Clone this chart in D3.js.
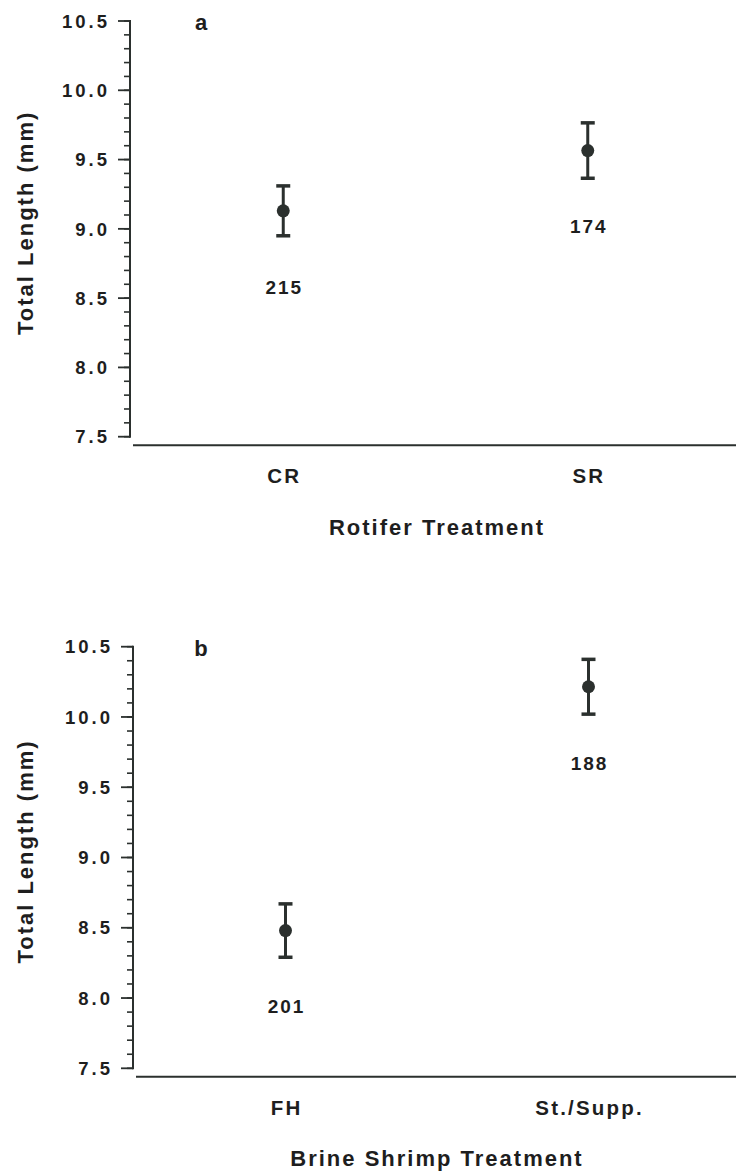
<!DOCTYPE html>
<html>
<head>
<meta charset="utf-8">
<script src="https://cdn.jsdelivr.net/npm/d3@7"></script>
<style>
  html, body { margin: 0; padding: 0; background: #fff; }
  svg { display: block; }
  text { font-family: "Liberation Sans", Arial, Helvetica, sans-serif; fill: #1e1e1e; font-weight: bold; }
</style>
</head>
<body>
<svg id="chart" width="736" height="1171"></svg>
<script>
// Panel a: rotifer treatments
const rotiferCategories = ["CR", "SR"];
const rotiferMeans = [9.13, 9.565];
const rotiferErrors = [0.18, 0.2];
const rotiferN = [215, 174];

// Panel b: brine shrimp treatments
const shrimpCategories = ["FH", "St./Supp."];
const shrimpMeans = [8.48, 10.215];
const shrimpErrors = [0.19, 0.195];
const shrimpN = [201, 188];

const yTickValues = [7.5, 8.0, 8.5, 9.0, 9.5, 10.0, 10.5];
const yDomain = [7.5, 10.5];

const svg = d3.select("#chart");
const ink = "#2b302e";

// letter-spaced text; the trailing gap after the last glyph is compensated
function spaced(sel, size, ls, anchor) {
  const shift = anchor === "end" ? ls : anchor === "middle" ? ls / 2 : 0;
  return sel.attr("font-size", size)
    .attr("letter-spacing", ls)
    .attr("text-anchor", anchor)
    .attr("dx", shift);
}

function drawPanel(cfg) {
  const g = svg.append("g");
  const y = d3.scaleLinear().domain(yDomain).range([cfg.bottom, cfg.top]);
  const x = d3.scaleBand().domain(cfg.categories).range([cfg.axisX + 1, 740]);
  const cx = d => x(d) + x.bandwidth() / 2;

  // y axis: major ticks every 0.5, minor every 0.1
  const minor = d3.range(75, 106, 1).map(v => v / 10);
  g.selectAll("line.minor").data(minor).join("line")
    .attr("x1", cfg.axisX - 6).attr("x2", cfg.axisX)
    .attr("y1", d => y(d)).attr("y2", d => y(d))
    .attr("stroke", ink).attr("stroke-width", 1.6);
  g.selectAll("line.major").data(yTickValues).join("line")
    .attr("x1", cfg.axisX - 12).attr("x2", cfg.axisX)
    .attr("y1", d => y(d)).attr("y2", d => y(d))
    .attr("stroke", ink).attr("stroke-width", 1.8);
  g.append("line")
    .attr("x1", cfg.axisX).attr("x2", cfg.axisX)
    .attr("y1", y(10.5) - 1).attr("y2", y(7.5) + 1)
    .attr("stroke", ink).attr("stroke-width", 2);
  spaced(g.selectAll("text.ytick").data(yTickValues).join("text")
    .attr("x", cfg.axisX - 23).attr("y", d => y(d))
    .attr("dy", "0.36em"), 18.5, 3, "end")
    .text(d => d3.format(".1f")(d));

  // x axis baseline
  g.append("line")
    .attr("x1", cfg.axisX + 3).attr("x2", 736)
    .attr("y1", cfg.bottom + 8.5).attr("y2", cfg.bottom + 8.5)
    .attr("stroke", ink).attr("stroke-width", 2);

  // category labels
  spaced(g.selectAll("text.cat").data(cfg.categories).join("text")
    .attr("x", cx)
    .attr("y", cfg.bottom + 39)
    .attr("dy", "0.36em"), 20.5, 2.2, "middle")
    .text(d => d);

  // axis titles
  spaced(g.append("text")
    .attr("x", 436).attr("y", cfg.bottom + 90)
    .attr("dy", "0.36em"), 22, 2, "middle")
    .text(cfg.xTitle);
  spaced(g.append("text")
    .attr("transform", `translate(33,${y(9.0) - 5}) rotate(-90)`), 22, 2, "middle")
    .text("Total Length (mm)");

  // panel letter
  g.append("text")
    .attr("x", 201).attr("y", y(10.5) + 1)
    .attr("dy", "0.36em")
    .attr("text-anchor", "middle")
    .attr("font-size", 22)
    .text(cfg.letter);

  // error bars and means
  const rows = cfg.categories.map((c, i) => ({
    c, m: cfg.means[i], e: cfg.errors[i], n: cfg.n[i]
  }));
  const pts = g.selectAll("g.pt").data(rows).join("g")
    .attr("transform", d => `translate(${cx(d.c)},0)`);
  pts.append("line")
    .attr("y1", d => y(d.m + d.e)).attr("y2", d => y(d.m - d.e))
    .attr("stroke", ink).attr("stroke-width", 3);
  pts.append("line")
    .attr("x1", -7).attr("x2", 7)
    .attr("y1", d => y(d.m + d.e)).attr("y2", d => y(d.m + d.e))
    .attr("stroke", ink).attr("stroke-width", 3.5);
  pts.append("line")
    .attr("x1", -7).attr("x2", 7)
    .attr("y1", d => y(d.m - d.e)).attr("y2", d => y(d.m - d.e))
    .attr("stroke", ink).attr("stroke-width", 3.5);
  pts.append("circle")
    .attr("cy", d => y(d.m)).attr("r", 6.5)
    .attr("fill", ink);
  spaced(pts.append("text")
    .attr("y", d => y(d.m) + 76)
    .attr("dy", "0.36em"), 19, 2, "middle")
    .text(d => d.n);
}

drawPanel({
  categories: rotiferCategories, means: rotiferMeans, errors: rotiferErrors, n: rotiferN,
  top: 21, bottom: 436.7, axisX: 130, xTitle: "Rotifer Treatment", letter: "a"
});
drawPanel({
  categories: shrimpCategories, means: shrimpMeans, errors: shrimpErrors, n: shrimpN,
  top: 646.7, bottom: 1068.3, axisX: 133, xTitle: "Brine Shrimp Treatment", letter: "b"
});
</script>
</body>
</html>
